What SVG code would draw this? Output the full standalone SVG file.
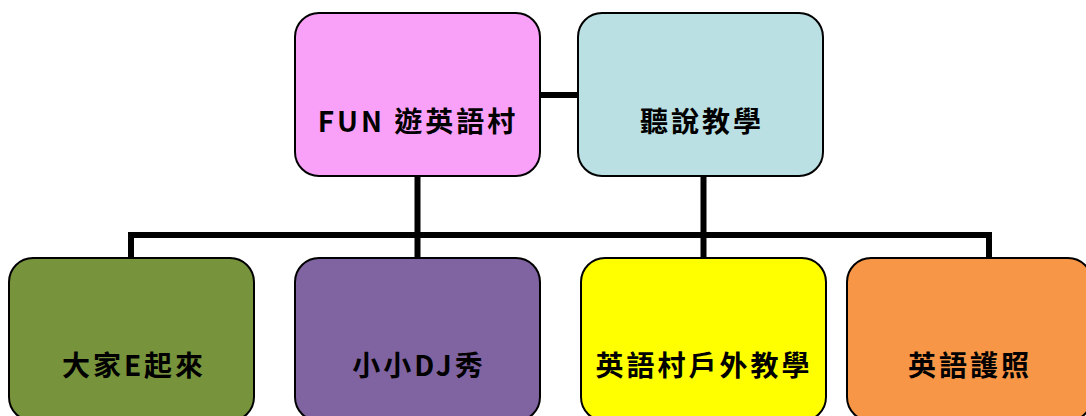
<svg xmlns="http://www.w3.org/2000/svg" width="1086" height="416" viewBox="0 0 1086 416">
<style>
.box{stroke:#000;stroke-width:2}
.lbl{font-family:"Noto Sans CJK TC","Noto Sans CJK SC",sans-serif;font-weight:bold;font-size:28px;letter-spacing:3px;fill:#000;text-anchor:middle;dominant-baseline:central}
.conn{stroke:#000;stroke-width:6;fill:none}
</style>
<rect width="1086" height="416" fill="#fff"/>
<g id="connectors">
<line class="conn" x1="540" y1="95" x2="578" y2="95"/>
<line class="conn" x1="417.5" y1="176" x2="417.5" y2="258"/>
<line class="conn" x1="703.5" y1="176" x2="703.5" y2="258"/>
<polyline class="conn" points="131,258 131,235 989,235 989,258"/>
</g>
<g id="n-fun">
<rect class="box" x="295" y="13" width="245" height="163" rx="24" fill="#F9A0F9"/>
<text class="lbl" x="418" y="120">FUN 遊英語村</text>
</g>
<g id="n-listen">
<rect class="box" x="578" y="13" width="245" height="163" rx="24" fill="#BAE0E3"/>
<text class="lbl" x="702" y="120">聽說教學</text>
</g>
<g id="n-e">
<rect class="box" x="9" y="258" width="245" height="163" rx="24" fill="#77933C"/>
<text class="lbl" x="134" y="364">大家E起來</text>
</g>
<g id="n-dj">
<rect class="box" x="295" y="258" width="245" height="163" rx="24" fill="#8064A2"/>
<text class="lbl" x="419" y="364">小小DJ秀</text>
</g>
<g id="n-outdoor">
<rect class="box" x="581" y="258" width="245" height="163" rx="24" fill="#FFFF00"/>
<text class="lbl" x="704" y="364">英語村戶外教學</text>
</g>
<g id="n-passport">
<rect class="box" x="847" y="258" width="245" height="163" rx="24" fill="#F79646"/>
<text class="lbl" x="970" y="364">英語護照</text>
</g>
</svg>
